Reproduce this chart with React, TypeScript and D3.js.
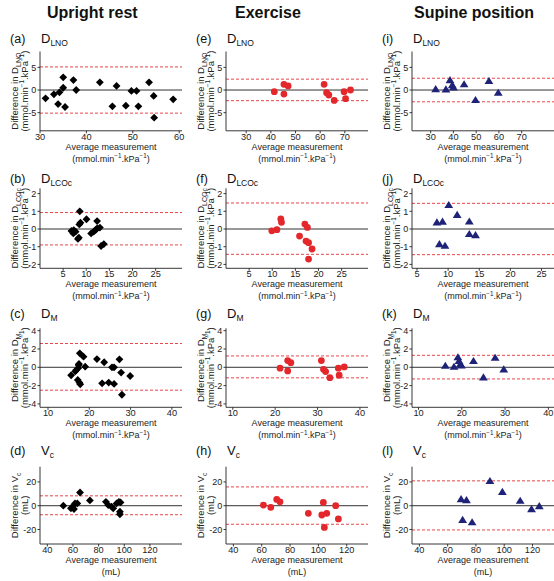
import React from 'react';
import * as d3 from 'd3';

// ---------------- data ----------------
const columnTitles = ['Upright rest', 'Exercise', 'Supine position'];
const panelLetters = [
  ['a', 'b', 'c', 'd'],
  ['e', 'f', 'g', 'h'],
  ['i', 'j', 'k', 'l'],
];
const rowVariables: [string, string][] = [['D', 'LNO'], ['D', 'LCOc'], ['D', 'M'], ['V', 'c']];

const yTicksDlno = [-5, 0, 5];
const yTicksDlco = [-2, -1, 0, 1, 2];
const yTicksDm = [-4, -2, 0, 2, 4];
const yTicksVc = [-20, 0, 20];

const xTicksDlnoRest = [30, 40, 50, 60];
const xTicksDlno = [30, 40, 50, 60, 70];
const xTicksDlco = [5, 10, 15, 20, 25];
const xTicksDm = [10, 20, 30, 40];
const xTicksVc = [40, 60, 80, 100, 120];

// Upright rest
const restDlnoAvg = [31.2, 33.0, 34.2, 33.9, 35.0, 35.0, 35.4, 37.2, 37.8, 42.9, 45.6, 46.5, 48.5, 49.7, 50.8, 51.2, 53.5, 54.5, 54.6, 58.7];
const restDlnoDiff = [-1.84, -0.96, -0.5, -3.1, 2.8, 0.5, -3.75, 2.2, 0, 1.7, -3.6, 0.9, -3.45, -0.2, -0.2, -3.6, 1.7, -1.3, -6.1, -2.05];
const restDlnoLoA = [5.1, -5.1];

const restDlcoAvg = [6.8, 7.3, 7.7, 7.2, 8.2, 8.4, 8.5, 8.75, 8.6, 10.05, 11.05, 11.6, 12.35, 12.0, 12.35, 12.95, 13.2, 13.8];
const restDlcoDiff = [-0.11, -0.06, -0.15, -0.25, -0.56, -0.49, 0.26, 0.36, 1.0, 0.55, -0.25, -0.15, 0.45, -0.06, 0.04, 0.08, -0.96, -0.85];
const restDlcoLoA = [0.93, -0.9];

const restDmAvg = [15.6, 16.6, 16.85, 17.3, 17.4, 17.5, 17.2, 17.6, 17.8, 17.7, 18.6, 19.0, 21.85, 23.6, 23.1, 24.7, 25.5, 26.0, 26.0, 27.3, 27.7, 27.9, 29.9];
const restDmDiff = [-0.87, -0.44, -0.3, -0.1, 0.25, 0.36, -1.38, -1.67, -1.85, 1.53, 1.16, 0.07, 0.9, 0.55, -1.75, -1.67, 0.0, 0.0, -1.82, 0.87, -0.58, -3.0, -0.95];
const restDmLoA = [2.6, -2.5];

const restVcAvg = [52.5, 58.4, 59.7, 60.8, 61.6, 63.4, 65.5, 73.2, 85.7, 87.5, 90.1, 91.4, 94.0, 95.8, 97.1, 96.6, 96.6];
const restVcDiff = [0, -2.2, -0.8, -2.8, 1.9, 1.9, 11.1, 4.4, 3.3, 0.55, -0.8, -2.2, 1.9, 3.3, 2.8, -5, -7.2];
const restVcLoA = [8.3, -7.6];

// Exercise
const exDlnoAvg = [41.4, 45.3, 47.0, 45.3, 61.6, 62.6, 63.5, 65.7, 69.7, 70.3, 72.3];
const exDlnoDiff = [-0.37, 1.25, 0.9, -0.9, 1.25, -0.6, -1.1, -2.3, -0.37, -1.9, 0.0];
const exDlnoLoA = [2.4, -2.35];

const exDlcoAvg = [9.9, 11.0, 11.85, 12.0, 15.9, 17.05, 17.6, 17.3, 17.85, 18.6, 17.85];
const exDlcoDiff = [-0.1, -0.04, 0.57, 0.38, -0.4, 0.28, 0.09, -0.68, -0.77, -1.13, -1.7];
const exDlcoLoA = [1.47, -1.43];

const exDmAvg = [21.15, 22.95, 22.95, 23.7, 30.9, 31.4, 31.9, 32.9, 34.9, 35.1, 36.3];
const exDmDiff = [-0.1, 0.73, -0.4, 0.5, 0.73, -0.22, -0.47, -1.13, -0.1, -0.87, 0.04];
const exDmLoA = [1.24, -1.15];

const exVcAvg = [61.2, 66.4, 70.6, 72.9, 92.9, 102.4, 103.5, 105.9, 104.2, 112.2, 114.1];
const exVcDiff = [0.55, -1.4, 5.3, 3.3, -6.4, -7.8, 2.8, -6.4, -18.3, 0, -11.1];
const exVcLoA = [15.8, -15.6];

// Supine position
const supDlnoAvg = [32.2, 36.7, 38.5, 39.5, 40.0, 44.7, 49.7, 55.6, 59.7];
const supDlnoDiff = [0.2, 0.15, 2.2, 1.1, 0.6, 1.3, -2.2, 2.0, -0.6];
const supDlnoLoA = [2.6, -2.6];

const supDlcoAvg = [8.2, 9.1, 8.6, 9.5, 10.1, 11.45, 13.4, 13.4, 14.4];
const supDlcoDiff = [0.38, 0.42, -0.85, -0.94, 1.36, 0.8, 0.43, -0.28, -0.34];
const supDlcoLoA = [1.45, -1.45];

const supDmAvg = [16.2, 18.2, 19.1, 19.35, 19.7, 19.9, 22.7, 25.0, 27.7, 29.7];
const supDmDiff = [0.18, 0.07, 1.1, 0.7, 0.36, 0.2, 0.7, -1.1, 1.05, -0.22];
const supDmLoA = [1.31, -1.27];

const supVcAvg = [69.5, 73.3, 70.6, 77.3, 89.9, 98.7, 111.3, 119.3, 124.8];
const supVcDiff = [5.6, 4.7, -11.9, -13.9, 20.8, 11.7, 4.2, -2.8, -0.3];
const supVcLoA = [20.9, -20.4];

// ---------------- layout & style ----------------
const FONT = "'Liberation Sans', Arial, Helvetica, sans-serif";
const colLeft = [40, 226, 412];
const plotW = 142;
const rowTop = [51.5, 188.3, 328.3, 466.7];
const rowBottom = [130.8, 268.3, 407.3, 544];
const rowYDomain: [number, number][] = [[-9, 8.5], [-2.22, 2.3], [-4.37, 4.26], [-32.2, 32.8]];
const rowYTicks = [yTicksDlno, yTicksDlco, yTicksDm, yTicksVc];
const colorSeries = ['#000000', '#e3272b', '#1e2377'];
const markerType = ['diamond', 'circle', 'triangle'];
const labelBaseline = [43, 183, 318, 455];

type PanelSpec = {
  col: number; row: number; avg: number[]; diff: number[]; loa: number[];
  xDomain: [number, number]; xTicks: number[];
};

const panels: PanelSpec[] = [
  { col: 0, row: 0, avg: restDlnoAvg, diff: restDlnoDiff, loa: restDlnoLoA, xDomain: [30, 60.6], xTicks: xTicksDlnoRest },
  { col: 0, row: 1, avg: restDlcoAvg, diff: restDlcoDiff, loa: restDlcoLoA, xDomain: [0, 30.7], xTicks: xTicksDlco },
  { col: 0, row: 2, avg: restDmAvg, diff: restDmDiff, loa: restDmLoA, xDomain: [8.06, 42.45], xTicks: xTicksDm },
  { col: 0, row: 3, avg: restVcAvg, diff: restVcDiff, loa: restVcLoA, xDomain: [34.3, 145.0], xTicks: xTicksVc },
  { col: 1, row: 0, avg: exDlnoAvg, diff: exDlnoDiff, loa: exDlnoLoA, xDomain: [21.8, 79.4], xTicks: xTicksDlno },
  { col: 1, row: 1, avg: exDlcoAvg, diff: exDlcoDiff, loa: exDlcoLoA, xDomain: [0, 30.7], xTicks: xTicksDlco },
  { col: 1, row: 2, avg: exDmAvg, diff: exDmDiff, loa: exDmLoA, xDomain: [8.4, 41.9], xTicks: xTicksDm },
  { col: 1, row: 3, avg: exVcAvg, diff: exVcDiff, loa: exVcLoA, xDomain: [34.8, 135.0], xTicks: xTicksVc },
  { col: 2, row: 0, avg: supDlnoAvg, diff: supDlnoDiff, loa: supDlnoLoA, xDomain: [21.8, 84.2], xTicks: xTicksDlno },
  { col: 2, row: 1, avg: supDlcoAvg, diff: supDlcoDiff, loa: supDlcoLoA, xDomain: [4.2, 27.0], xTicks: xTicksDlco },
  { col: 2, row: 2, avg: supDmAvg, diff: supDmDiff, loa: supDmLoA, xDomain: [8.5, 41.3], xTicks: xTicksDm },
  { col: 2, row: 3, avg: supVcAvg, diff: supVcDiff, loa: supVcLoA, xDomain: [34.8, 135.2], xTicks: xTicksVc },
];

function markerPath(type: string): string {
  if (type === 'diamond') return 'M0,-3.9L3.9,0L0,3.9L-3.9,0Z';
  if (type === 'triangle') return 'M0,-4L4.4,3.1L-4.4,3.1Z';
  return d3.symbol(d3.symbolCircle, Math.PI * 3.4 * 3.4)() as string;
}

function UnitsTspans({ mL, sup }: { mL: boolean; sup: number }) {
  if (mL) return <>(mL)</>;
  return (
    <>
      (mmol.min
      <tspan dy={-sup} fontSize={6.3}>−1</tspan>
      <tspan dy={sup}>.kPa</tspan>
      <tspan dy={-sup} fontSize={6.3}>−1</tspan>
      <tspan dy={sup}>)</tspan>
    </>
  );
}

function Panel({ p }: { p: PanelSpec }) {
  const x0 = colLeft[p.col];
  const x1 = x0 + plotW;
  const y0 = rowTop[p.row];
  const y1 = rowBottom[p.row];
  const x = d3.scaleLinear().domain(p.xDomain).range([x0, x1]);
  const y = d3.scaleLinear().domain(rowYDomain[p.row]).range([y1, y0]);
  const color = colorSeries[p.col];
  const path = markerPath(markerType[p.col]);
  const [v, sub] = rowVariables[p.row];
  const isVc = p.row === 3;
  const cy = (y0 + y1) / 2;
  const cx = (x0 + x1) / 2;
  const axisColor = '#222';
  return (
    <g>
      {/* panel label and title */}
      <text x={x0 - 30} y={labelBaseline[p.row]} fontSize={12.5} fill="#111">({panelLetters[p.col][p.row]})</text>
      <text x={x0 + 1} y={labelBaseline[p.row]} fontSize={13} fill="#111">
        {v}<tspan dy={3} fontSize={8.5}>{sub}</tspan>
      </text>
      {/* reference lines */}
      <line x1={x0} x2={x1} y1={y(0)} y2={y(0)} stroke="#333" strokeWidth={1} />
      {p.loa.map((l, i) => (
        <line key={i} x1={x0} x2={x1} y1={y(l)} y2={y(l)} stroke="#e8454a" strokeWidth={1} strokeDasharray="3,2" />
      ))}
      {/* axes */}
      <line x1={x0} x2={x0} y1={y0} y2={y1} stroke={axisColor} strokeWidth={0.9} />
      <line x1={x0} x2={x1} y1={y1} y2={y1} stroke={axisColor} strokeWidth={0.9} />
      {rowYTicks[p.row].map(t => (
        <g key={'y' + t}>
          <line x1={x0 - 2.5} x2={x0} y1={y(t)} y2={y(t)} stroke={axisColor} strokeWidth={0.9} />
          <text x={x0 - 3.8} y={y(t) + 3.2} fontSize={9} textAnchor="end" fill="#222">{t < 0 ? '-' + Math.abs(t) : t}</text>
        </g>
      ))}
      {p.xTicks.map(t => (
        <g key={'x' + t}>
          <line x1={x(t)} x2={x(t)} y1={y1} y2={y1 + 2.5} stroke={axisColor} strokeWidth={0.9} />
          <text x={x(t)} y={y1 + 9} fontSize={9.2} textAnchor="middle" fill="#222">{t}</text>
        </g>
      ))}
      {/* axis titles */}
      <text x={cx} y={y1 + 18.8} fontSize={9} textAnchor="middle" fill="#222">Average measurement</text>
      <text x={cx} y={y1 + 31} fontSize={9} textAnchor="middle" fill="#222">
        <UnitsTspans mL={isVc} sup={3.5} />
      </text>
      <text transform={`translate(${x0 - 22},${cy}) rotate(-90)`} fontSize={9.5} textAnchor="middle" fill="#222">
        Difference in {v}<tspan dy={2.5} fontSize={7}>{sub}</tspan>
      </text>
      <text transform={`translate(${x0 - 12.5},${cy}) rotate(-90)`} fontSize={9.5} textAnchor="middle" fill="#222">
        <UnitsTspans mL={isVc} sup={3.5} />
      </text>
      {/* points */}
      {p.avg.map((a, i) => (
        <path key={i} d={path} transform={`translate(${x(a)},${y(p.diff[i])})`} fill={color} />
      ))}
    </g>
  );
}

export default function App() {
  const headerX = [47, 235, 414];
  return (
    <svg width={554} height={581} viewBox="0 0 554 581"
      style={{ position: 'absolute', left: 0, top: 0, background: '#fff', fontFamily: FONT }}>
      <rect width={554} height={581} fill="#fff" />
      {columnTitles.map((t, i) => (
        <text key={t} x={headerX[i]} y={18} fontSize={16} fontWeight="bold" fill="#111">{t}</text>
      ))}
      {panels.map((p, i) => <Panel key={i} p={p} />)}
    </svg>
  );
}
